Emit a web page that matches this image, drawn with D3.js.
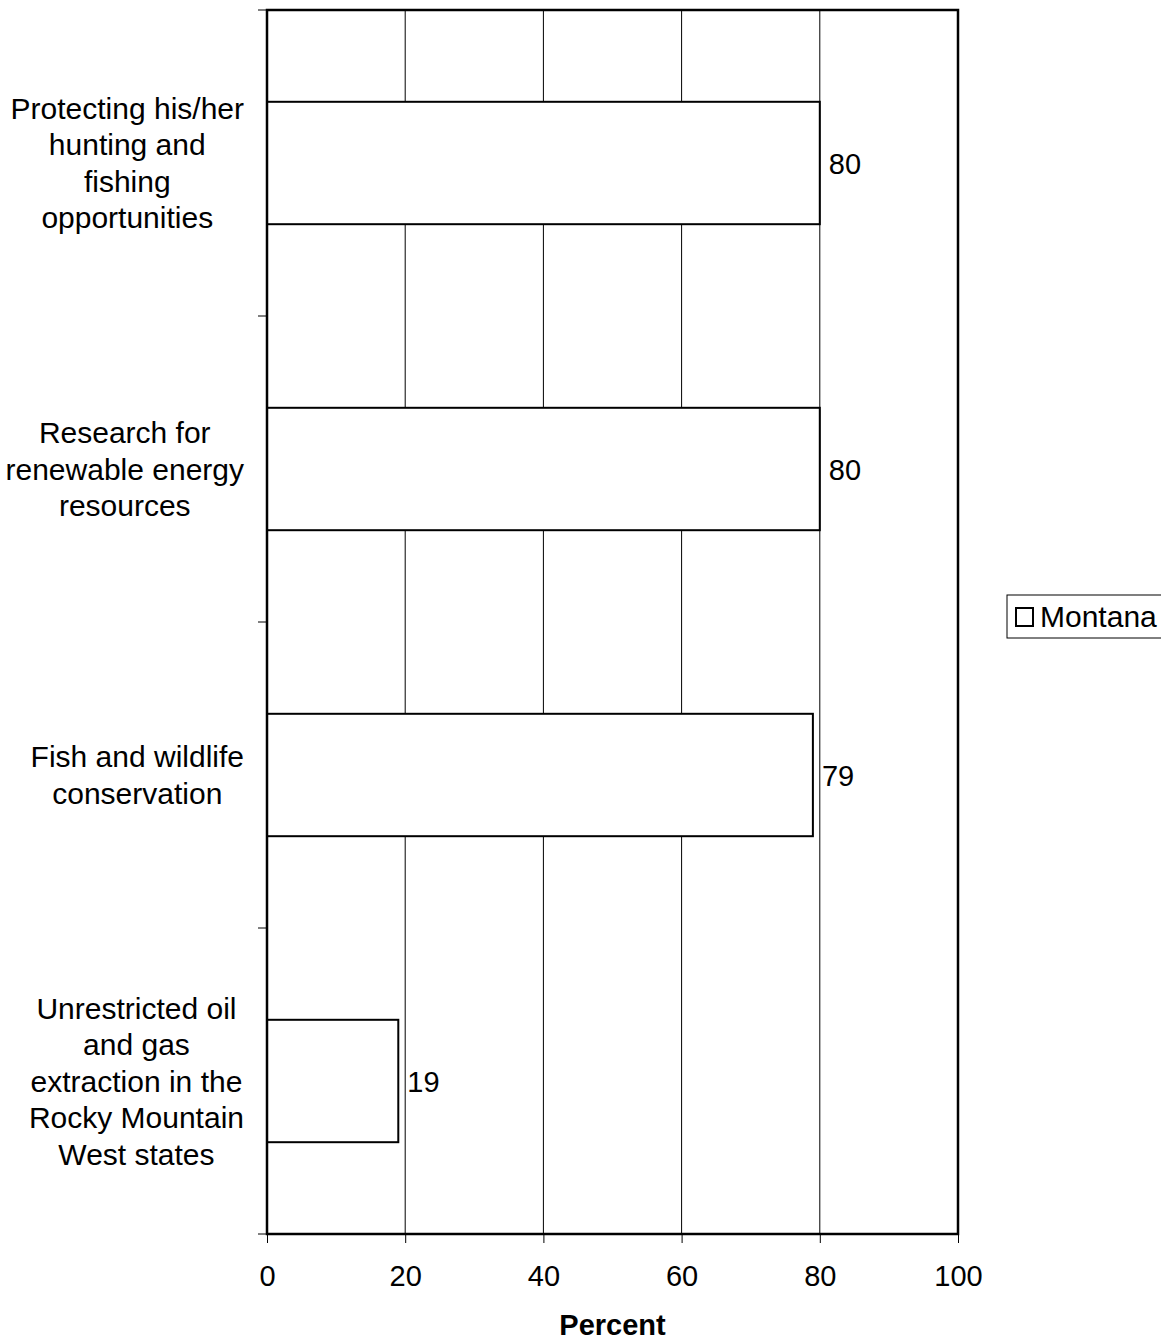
<!DOCTYPE html>
<html>
<head>
<meta charset="utf-8">
<script src="https://cdn.jsdelivr.net/npm/d3@7"></script>
<style>
  body { margin: 0; background: #fff; }
  text { font-family: Arial, "Liberation Sans", sans-serif; }
</style>
</head>
<body>
<script>
//==DATA==//
const categories = [
  ["Protecting his/her", "hunting and", "fishing", "opportunities"],
  ["Research for", "renewable energy", "resources"],
  ["Fish and wildlife", "conservation"],
  ["Unrestricted oil", "and gas", "extraction in the", "Rocky Mountain", "West states"]
];
const values = [80, 80, 79, 19];
const xTicks = [0, 20, 40, 60, 80, 100];
const seriesName = "Montana";

//==SVG AREA==//
const width = 1161;
const height = 1340;
const fontSize = 29;
const labelSize = 30;
const lineHeight = 36.5;
const margin = {top: 10, right: 203, bottom: 106, left: 267};

const svg = d3.select("body")
  .append("svg")
  .attr("width", width)
  .attr("height", height);

const x = d3.scaleLinear()
  .domain([0, 100])
  .range([margin.left, width - margin.right]);

const y = d3.scaleBand()
  .domain(d3.range(categories.length))
  .range([margin.top, height - margin.bottom])
  .paddingInner(0.6)
  .paddingOuter(0.3);

const bandEdges = d3.range(categories.length + 1)
  .map(i => margin.top + i * (height - margin.bottom - margin.top) / categories.length);

//gridlines
svg.append("g")
  .selectAll("line")
  .data(xTicks.slice(1, -1))
  .enter()
  .append("line")
  .attr("x1", d => x(d))
  .attr("x2", d => x(d))
  .attr("y1", margin.top)
  .attr("y2", height - margin.bottom)
  .attr("stroke", "#000")
  .attr("stroke-width", 1);

//x axis
const xAxis = d3.axisBottom(x)
  .tickValues(xTicks)
  .tickSize(9)
  .tickPadding(22)
  .tickFormat(d => d);

svg.append("g")
  .attr("transform", "translate(0," + (height - margin.bottom) + ")")
  .call(xAxis)
  .call(g => g.select(".domain").remove())
  .call(g => g.selectAll(".tick line").attr("stroke", "#000"))
  .call(g => g.selectAll(".tick text")
    .attr("font-size", fontSize)
    .attr("font-family", "Arial, 'Liberation Sans', sans-serif")
    .attr("fill", "#000"));

//y ticks at band edges
svg.append("g")
  .selectAll("line")
  .data(bandEdges)
  .enter()
  .append("line")
  .attr("x1", margin.left - 9)
  .attr("x2", margin.left)
  .attr("y1", d => d)
  .attr("y2", d => d)
  .attr("stroke", "#000")
  .attr("stroke-width", 1);

//bars
svg.append("g")
  .selectAll("rect")
  .data(values)
  .enter()
  .append("rect")
  .attr("x", x(0))
  .attr("y", (d, i) => y(i))
  .attr("width", d => x(d) - x(0))
  .attr("height", y.bandwidth())
  .attr("fill", "#fff")
  .attr("stroke", "#000")
  .attr("stroke-width", 2);

//value labels
svg.append("g")
  .selectAll("text")
  .data(values)
  .enter()
  .append("text")
  .attr("x", d => x(d) + 9)
  .attr("y", (d, i) => y(i) + y.bandwidth() / 2 + 10.5)
  .attr("font-size", fontSize)
  .text(d => d);

//plot border
svg.append("rect")
  .attr("x", margin.left)
  .attr("y", margin.top)
  .attr("width", x(100) - x(0))
  .attr("height", height - margin.bottom - margin.top)
  .attr("fill", "none")
  .attr("stroke", "#000")
  .attr("stroke-width", 2.5);

//category labels: block right-aligned, lines centered in block
const labelRight = 244;
categories.forEach(function(lines, i) {
  const cy = y(i) + y.bandwidth() / 2;
  const g = svg.append("g");
  const texts = g.selectAll("text")
    .data(lines)
    .enter()
    .append("text")
    .attr("font-size", labelSize)
    .attr("text-anchor", "middle")
    .attr("y", (d, j) => cy + (j - (lines.length - 1) / 2) * lineHeight + 10.5)
    .text(d => d);
  let maxW = 0;
  texts.each(function() { maxW = Math.max(maxW, this.getComputedTextLength()); });
  texts.attr("x", labelRight - maxW / 2);
});

//axis title
svg.append("text")
  .attr("x", (x(0) + x(100)) / 2)
  .attr("y", 1335)
  .attr("text-anchor", "middle")
  .attr("font-size", fontSize)
  .attr("font-weight", "bold")
  .text("Percent");

//legend
const legend = svg.append("g").attr("id", "legend");
legend.append("rect")
  .attr("x", 1007)
  .attr("y", 595)
  .attr("width", 170)
  .attr("height", 43)
  .attr("fill", "#fff")
  .attr("stroke", "#000")
  .attr("stroke-width", 1);
legend.append("rect")
  .attr("x", 1016)
  .attr("y", 608)
  .attr("width", 17)
  .attr("height", 18)
  .attr("fill", "#fff")
  .attr("stroke", "#000")
  .attr("stroke-width", 2);
legend.append("text")
  .attr("x", 1040)
  .attr("y", 627)
  .attr("font-size", labelSize)
  .text(seriesName);
</script>
</body>
</html>
